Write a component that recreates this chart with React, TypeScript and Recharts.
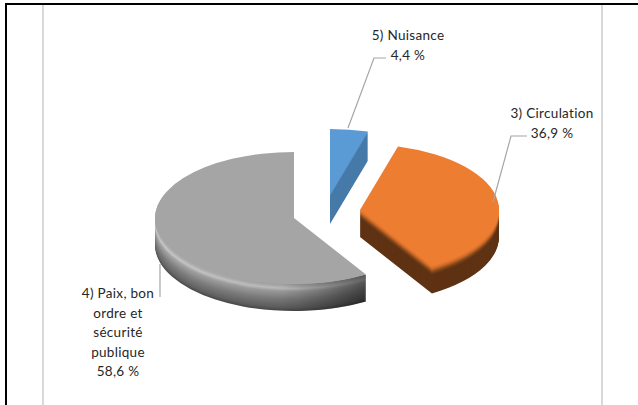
import React from "react";
import { PieChart, Pie } from "recharts";

// Data, clockwise from the top of the pie
const sliceNames = ["5) Nuisance", "3) Circulation", "4) Paix, bon ordre et sécurité publique"];
const sliceValues = [4.4, 36.9, 58.6];
const sliceLabelLines = [["5) Nuisance"], ["3) Circulation"], ["4) Paix, bon", "ordre et", "sécurité", "publique"]];
const tableData = sliceNames.map((name, i) => ({ name, value: sliceValues[i] }));

// Styles and layout, by slice index
const faceColors = ["#5b9bd5", "#ed7d31", "#a5a5a5"];
type Stop = [number, number[]];
const sideRamps: Stop[][] = [
  [[0, [91, 155, 213]], [2, [70, 122, 168]], [30, [70, 122, 168]]],
  [[0, [237, 125, 49]], [3, [205, 105, 40]], [6, [130, 72, 28]], [9, [94, 50, 19]], [30, [94, 50, 19]]],
  [[0, [165, 165, 165]], [2, [178, 178, 178]], [5, [200, 200, 200]], [8, [165, 165, 165]], [16, [128, 128, 128]], [24, [100, 100, 100]], [28, [72, 72, 72]]],
];
const explodeOffsets = [[36, -23], [66, -8], [0, 0]];
const depths = [29, 27, 27];
const SQUASH = 0.475;
const labelAnchors = [[408, 40], [552, 118], [118, 298]];
const LINE_STEP = 19.5;
const leaderLines = [
  "M348 128 L374 58 L386 58",
  "M493 202 L511 136 L527 136",
  "M160 264 L160 297",
];

function rampColor(ramp: Stop[], d: number) {
  for (let i = 1; i < ramp.length; i++) {
    const [d0, c0] = ramp[i - 1];
    const [d1, c1] = ramp[i];
    if (d <= d1) {
      const t = (d - d0) / (d1 - d0);
      return `rgb(${c0.map((c, k) => Math.round(c + (c1[k] - c) * t)).join(",")})`;
    }
  }
  const last = ramp[ramp.length - 1][1];
  return `rgb(${last.join(",")})`;
}

function Slice3D(props: any) {
  const { cx, cy, outerRadius, startAngle, endAngle, index } = props;
  const [ox, oy] = explodeOffsets[index];
  const rx = outerRadius;
  const ry = outerRadius * SQUASH;
  const px = (a: number) => cx + ox + rx * Math.cos((a * Math.PI) / 180);
  const py = (a: number) => cy + oy - ry * Math.sin((a * Math.PI) / 180);
  const large = Math.abs(endAngle - startAngle) > 180 ? 1 : 0;
  const face = `M${cx + ox} ${cy + oy} L${px(startAngle)} ${py(startAngle)} A${rx} ${ry} 0 ${large} 1 ${px(endAngle)} ${py(endAngle)} Z`;
  const depth = depths[index];
  const layers = [];
  for (let d = depth; d >= 1; d--) {
    layers.push(
      <path key={d} d={face} transform={`translate(0 ${d})`} fill={rampColor(sideRamps[index], d)} />
    );
  }
  const isGray = index === 2;
  const shadeStart = 180;
  const band = `M${px(startAngle)} ${py(startAngle)} A${rx} ${ry} 0 0 1 ${px(shadeStart)} ${py(shadeStart)} L${px(shadeStart)} ${py(shadeStart) + depth} A${rx} ${ry} 0 0 0 ${px(startAngle)} ${py(startAngle) + depth} Z`;
  return (
    <g>
      {isGray && (
        <defs>
          <linearGradient id="grayShade" gradientUnits="userSpaceOnUse" x1={cx - rx} x2={px(startAngle)} y1="0" y2="0">
            <stop offset="0" stopColor="#000" stopOpacity="0" />
            <stop offset="0.6" stopColor="#000" stopOpacity="0.08" />
            <stop offset="1" stopColor="#000" stopOpacity="0.5" />
          </linearGradient>
        </defs>
      )}
      {layers}
      {isGray && <path d={band} fill="url(#grayShade)" />}
      <path d={face} fill={faceColors[index]} />
    </g>
  );
}

function SliceLabel(props: any) {
  const { index, value } = props;
  const [x, y] = labelAnchors[index];
  const lines = [...sliceLabelLines[index], `${Number(value).toFixed(1).replace(".", ",")} %`];
  return (
    <g>
      <path d={leaderLines[index]} fill="none" stroke="#a6a6a6" strokeWidth={1.2} />
      <text x={x} y={y} textAnchor="middle" fontFamily="Lato" fontSize={13.5} letterSpacing={0.3} fill="#262626">
        {lines.map((line, i) => (
          <tspan key={i} x={x} y={y + i * LINE_STEP}>{line}</tspan>
        ))}
      </text>
    </g>
  );
}

export default function App() {
  return (
    <div style={{ position: "absolute", left: 0, top: 0, width: 638, height: 405, overflow: "hidden", background: "#fff" }}>
      <div style={{ position: "absolute", left: 5, top: 3, right: 0, height: 2, background: "#000" }} />
      <div style={{ position: "absolute", left: 5, top: 3, bottom: 0, width: 2, background: "#000" }} />
      <div style={{ position: "absolute", left: 42, top: 5, bottom: 0, width: 2, background: "#d9d9d9" }} />
      <div style={{ position: "absolute", left: 601, top: 5, bottom: 0, width: 2, background: "#d9d9d9" }} />
      <div style={{ position: "absolute", left: 0, top: 0 }}>
        <PieChart width={638} height={405} margin={{ top: 0, right: 0, bottom: 0, left: 0 }}>
          <Pie
            data={tableData}
            dataKey="value"
            nameKey="name"
            cx={294}
            cy={218}
            innerRadius={0}
            outerRadius={139}
            startAngle={90}
            endAngle={-270}
            stroke="none"
            shape={Slice3D}
            label={SliceLabel}
            labelLine={false}
            isAnimationActive={false}
          />
        </PieChart>
      </div>
    </div>
  );
}
